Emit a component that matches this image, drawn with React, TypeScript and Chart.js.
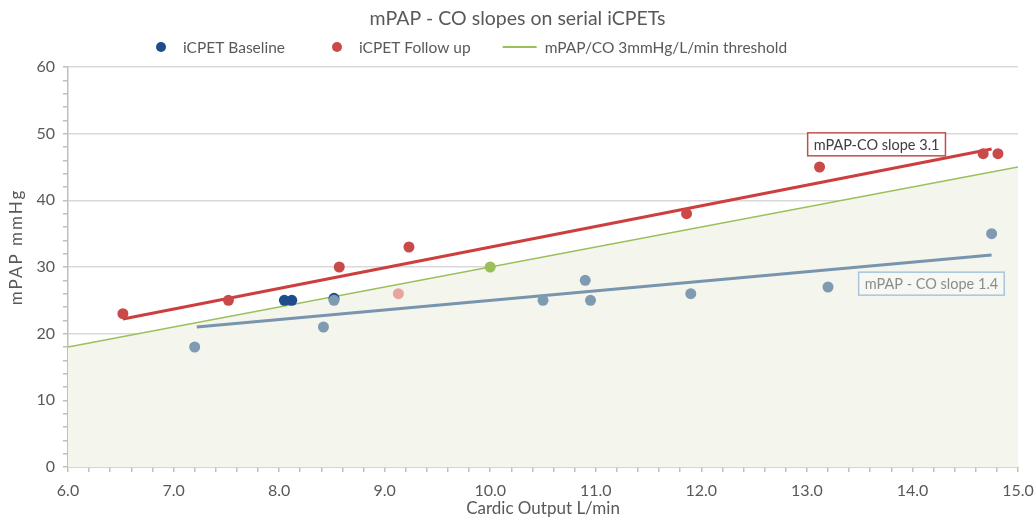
import React, { useEffect, useRef } from 'react';
import { Chart, registerables } from 'chart.js';

Chart.register(...registerables);

const FONT = 'Lato, "Open Sans", sans-serif';
const TEXT = '#595959';

// Data (cardiac output L/min, mPAP mmHg)
const baselineCO = [8.05, 8.12, 8.52];
const baselineMPAP = [25, 25, 25.3];
const baselineAllCO = [7.2, 8.42, 8.52, 10.5, 10.9, 10.95, 11.9, 13.2, 14.75];
const baselineAllMPAP = [18, 21, 25, 25, 28, 25, 26, 27, 35];
const followCO = [6.52, 7.52, 8.57, 9.23, 11.86, 13.12, 14.67, 14.81];
const followMPAP = [23, 25, 30, 33, 38, 45, 47, 47];
const paleCO = [9.13];
const paleMPAP = [26];
const thresholdPointCO = [10.0];
const thresholdPointMPAP = [30];
const thresholdCO = [6, 15];
const thresholdMPAP = [18, 45];
const followTrendCO = [6.52, 14.75];
const followTrendMPAP = [22.2, 47.7];
const baselineTrendCO = [7.22, 14.75];
const baselineTrendMPAP = [21.0, 31.8];

const xMin = 6;
const xMax = 15;
const xMinorStep = 0.2;
const yMin = 0;
const yMax = 60;
const yMinorStep = 2;
const yMajorStep = 10;

const legendLabels = ['iCPET Baseline', 'iCPET Follow up', 'mPAP/CO 3mmHg/L/min threshold'];
const slopeLabels = ['mPAP-CO slope 3.1', 'mPAP - CO slope 1.4'];
const slopeLabelCO = [13.66, 14.18];
const slopeLabelMPAP = [48.4, 27.5];

const RED = '#c94a48';
const DARK_BLUE = '#1f4c8a';
const GREY_BLUE = '#7f9bb2';
const PINK = '#e6a59e';
const GREEN = '#9bbf5a';
const FILL = '#f4f5ed';

const pts = (xs: number[], ys: number[]) => xs.map((x, i) => ({ x, y: ys[i] }));

const decorPlugin = {
  id: 'decor',
  afterDatasetsDraw(chart: any) {
    const { ctx, scales } = chart;
    const x = scales.x;
    const y = scales.y;
    const borders = ['#c0504d', '#a9c4dc'];
    const fills = ['#ffffff', '#f7f8f3'];
    const colors = ['#404040', '#8c8c8c'];
    slopeLabels.forEach((txt, i) => {
      ctx.save();
      ctx.font = `14.5px ${FONT}`;
      const w = ctx.measureText(txt).width + 12;
      const h = 23;
      const cx = x.getPixelForValue(slopeLabelCO[i]);
      const cy = y.getPixelForValue(slopeLabelMPAP[i]);
      ctx.fillStyle = fills[i];
      ctx.fillRect(cx - w / 2, cy - h / 2, w, h);
      ctx.strokeStyle = borders[i];
      ctx.lineWidth = 1.5;
      ctx.strokeRect(cx - w / 2, cy - h / 2, w, h);
      ctx.fillStyle = colors[i];
      ctx.textAlign = 'center';
      ctx.textBaseline = 'middle';
      ctx.fillText(txt, cx, cy + 1);
      ctx.restore();
    });
  },
  afterDraw(chart: any) {
    const { ctx, chartArea } = chart;
    ctx.save();
    // legend
    ctx.font = `15.5px ${FONT}`;
    ctx.textBaseline = 'middle';
    ctx.textAlign = 'left';
    const ly = chartArea.top - 20;
    let lx = 156;
    const symbols = ['dot', 'dot', 'line'];
    const symColors = [DARK_BLUE, RED, GREEN];
    symbols.forEach((s, i) => {
      if (s === 'dot') {
        ctx.fillStyle = symColors[i];
        ctx.beginPath();
        ctx.arc(lx + 5, ly, 5, 0, Math.PI * 2);
        ctx.fill();
        lx += 27;
      } else {
        ctx.strokeStyle = symColors[i];
        ctx.lineWidth = 2;
        ctx.beginPath();
        ctx.moveTo(lx, ly);
        ctx.lineTo(lx + 34, ly);
        ctx.stroke();
        lx += 42;
      }
      ctx.fillStyle = TEXT;
      ctx.fillText(legendLabels[i], lx, ly + 1);
      lx += ctx.measureText(legendLabels[i]).width + (i === 0 ? 47 : 32);
    });
    // y title
    ctx.font = `17px ${FONT}`;
    (ctx as any).letterSpacing = '2px';
    ctx.fillStyle = TEXT;
    ctx.textAlign = 'center';
    ctx.translate(17, chartArea.top + (chartArea.bottom - chartArea.top) * 0.45);
    ctx.rotate(-Math.PI / 2);
    ctx.fillText('mPAP mmHg', 0, 0);
    ctx.restore();
  },
};

const isNear = (v: number, step: number) => Math.abs(v / step - Math.round(v / step)) < 1e-6;

export default function App() {
  const ref = useRef<HTMLCanvasElement | null>(null);
  useEffect(() => {
    if (!ref.current) return;
    const pointBase = { showLine: false, pointRadius: 5.5, pointBorderWidth: 0, pointHoverRadius: 5.5 };
    const chart = new Chart(ref.current, {
      type: 'scatter',
      data: {
        datasets: [
          { ...pointBase, label: 'iCPET Follow up', data: pts(followCO, followMPAP), backgroundColor: RED, order: 1 },
          { ...pointBase, label: 'follow pale', data: pts(paleCO, paleMPAP), backgroundColor: PINK, order: 2 },
          { ...pointBase, label: 'baseline all', data: pts(baselineAllCO, baselineAllMPAP), backgroundColor: GREY_BLUE, order: 3 },
          { ...pointBase, label: 'iCPET Baseline', data: pts(baselineCO, baselineMPAP), backgroundColor: DARK_BLUE, order: 4 },
          { ...pointBase, label: 'threshold point', data: pts(thresholdPointCO, thresholdPointMPAP), backgroundColor: GREEN, order: 5 },
          { label: 'follow trend', data: pts(followTrendCO, followTrendMPAP), showLine: true, borderColor: '#cc3f3e', borderWidth: 3.2, pointRadius: 0, order: 6 },
          { label: 'baseline trend', data: pts(baselineTrendCO, baselineTrendMPAP), showLine: true, borderColor: '#7895ad', borderWidth: 3.2, pointRadius: 0, order: 7 },
          { label: 'mPAP/CO 3mmHg/L/min threshold', data: pts(thresholdCO, thresholdMPAP), showLine: true, borderColor: GREEN, borderWidth: 1.6, pointRadius: 0, fill: 'origin', backgroundColor: FILL, order: 8 },
        ],
      },
      options: {
        animation: false,
        responsive: true,
        maintainAspectRatio: false,
        layout: { padding: { left: 0, right: 0, top: 0, bottom: 0 } },
        plugins: {
          legend: { display: false },
          tooltip: { enabled: false },
          title: {
            display: true,
            text: 'mPAP - CO slopes on serial iCPETs',
            color: TEXT,
            font: { family: FONT, size: 19.5, weight: 'normal', lineHeight: 1.2 },
            padding: { top: 7, bottom: 36.6 },
          },
        },
        scales: {
          x: {
            type: 'linear',
            min: xMin,
            max: xMax,
            afterFit: (s: any) => { s.height = 52; s.paddingRight = 17; s.paddingLeft = 0; },
            ticks: {
              stepSize: xMinorStep,
              autoSkip: false,
              maxRotation: 0,
              color: TEXT,
              padding: 9,
              font: { family: FONT, size: 16 },
              callback: (v: any) => (isNear(Number(v), 1) ? Number(v).toFixed(1) : ''),
            },
            grid: { drawOnChartArea: false, tickColor: '#bfbfbf', tickLength: 5, lineWidth: 1.5 },
            border: { display: true, color: '#bfbfbf', width: 1.5 },
            title: {
              display: true,
              text: 'Cardic Output L/min',
              color: TEXT,
              font: { family: FONT, size: 17 },
              padding: { top: 0, bottom: 0 },
            },
          },
          y: {
            type: 'linear',
            min: yMin,
            max: yMax,
            afterFit: (s: any) => { s.width = 68; },
            ticks: {
              stepSize: yMinorStep,
              autoSkip: false,
              color: TEXT,
              padding: 8,
              font: { family: FONT, size: 16 },
              callback: (v: any) => (isNear(Number(v), yMajorStep) ? String(Math.round(Number(v))) : ''),
            },
            grid: {
              color: (c: any) => (c.tick && isNear(c.tick.value, yMajorStep) ? '#d9d9d9' : 'rgba(0,0,0,0)'),
              tickColor: '#bfbfbf',
              tickLength: 5,
              lineWidth: 1.5,
            },
            border: { display: true, color: '#bfbfbf', width: 1.5 },
          },
        },
      },
      plugins: [decorPlugin],
    } as any);
    return () => chart.destroy();
  }, []);
  return (
    <div style={{ position: 'absolute', left: 0, top: 0, width: 1035, height: 519 }}>
      <canvas ref={ref} />
    </div>
  );
}
